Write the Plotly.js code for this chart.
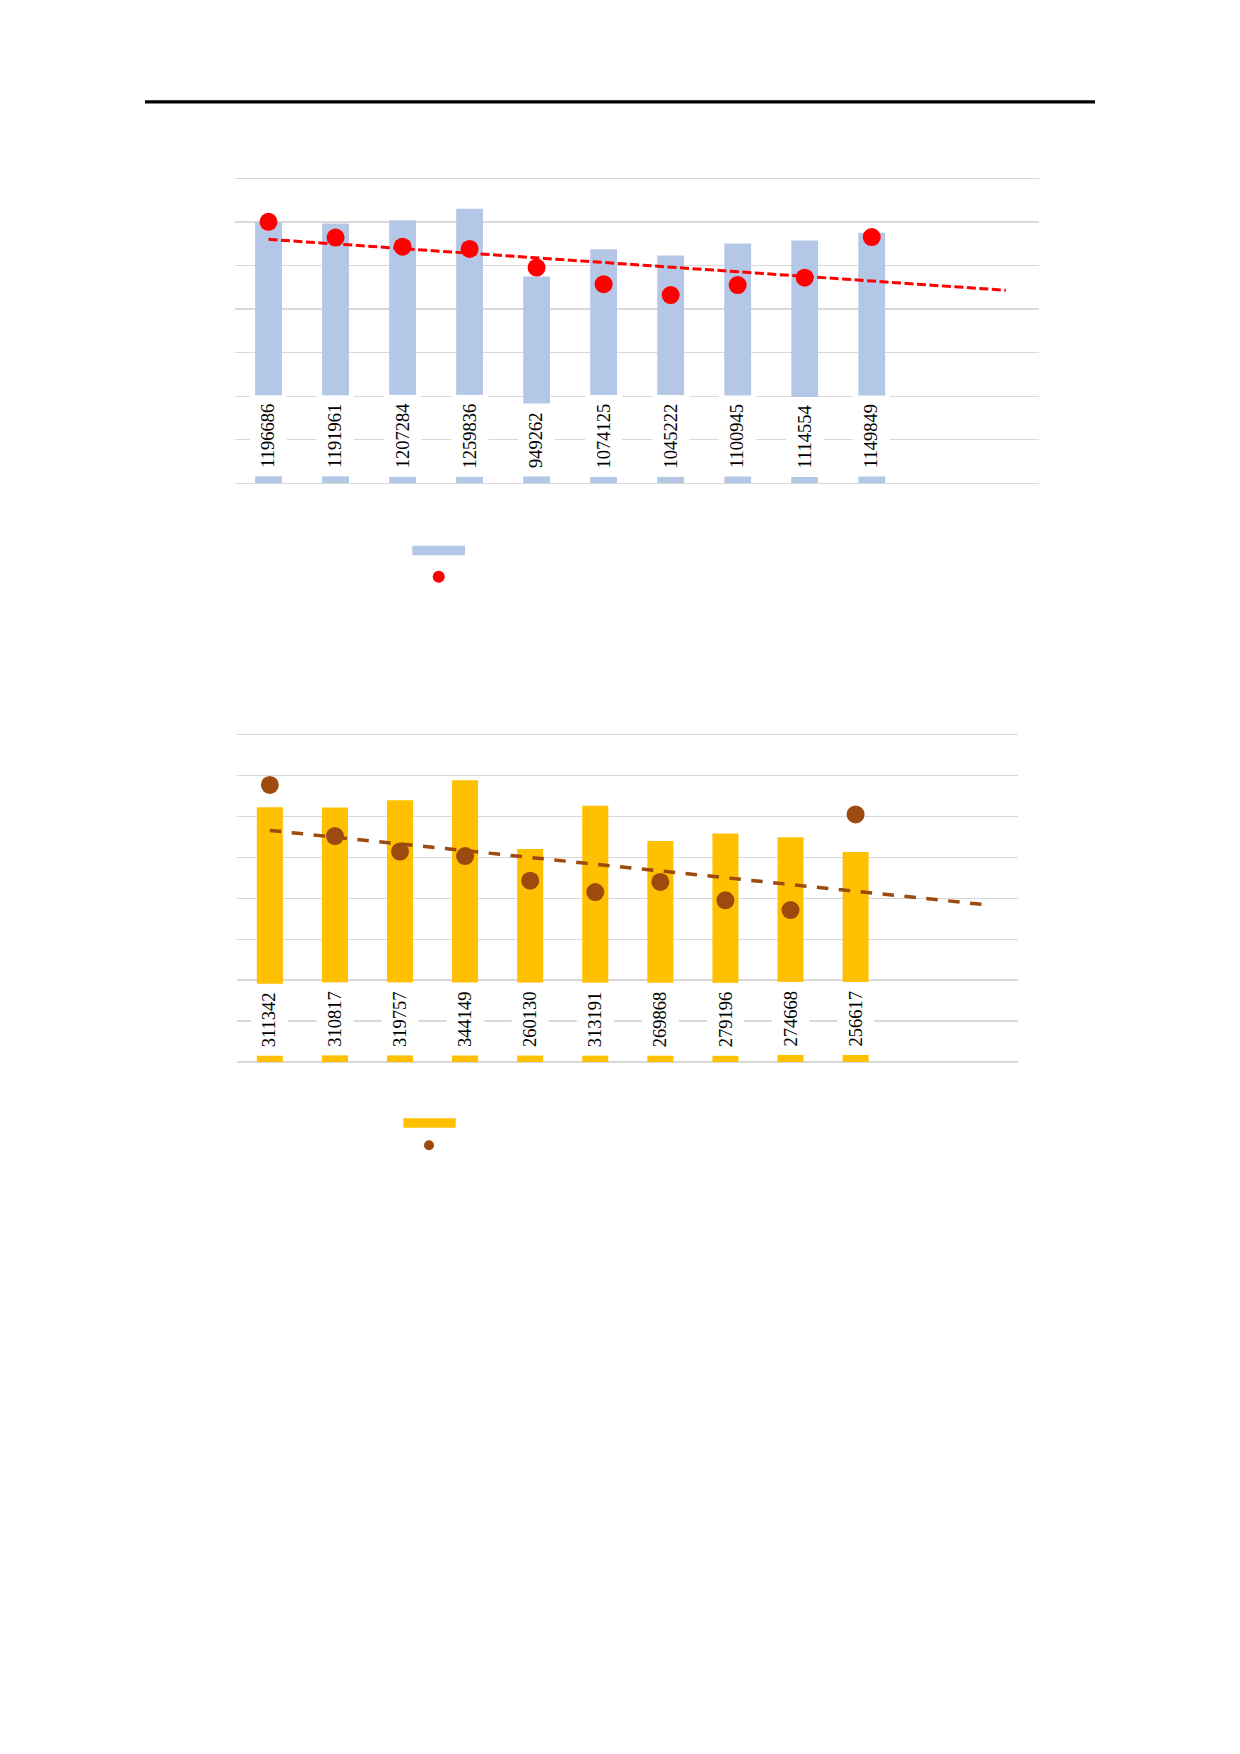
<!DOCTYPE html>
<html>
<head>
<meta charset="utf-8">
<script src="https://cdn.plot.ly/plotly-3.0.1.min.js"></script>
<style>
  html, body { margin: 0; padding: 0; background: #fff; }
  #page { width: 1240px; height: 1754px; }
</style>
</head>
<body>
<div id="page"></div>
<script>
// periods 1..10; the axis leaves room for two more so the trend can run ahead
const periods = [1, 2, 3, 4, 5, 6, 7, 8, 9, 10];
const trendEnd = 12;

// upper chart: blue columns + red points (secondary scale)
const blueValues = [1196686, 1191961, 1207284, 1259836, 949262, 1074125, 1045222, 1100945, 1114554, 1149849];
const redPoints = [6.00, 5.64, 5.43, 5.38, 4.95, 4.57, 4.32, 4.55, 4.72, 5.65];

// lower chart: yellow columns + brown points (secondary scale)
const yellowValues = [311342, 310817, 319757, 344149, 260130, 313191, 269868, 279196, 274668, 256617];
const brownPoints = [6.77, 5.52, 5.14, 5.03, 4.43, 4.15, 4.40, 3.95, 3.71, 6.05];

const W = 1240, H = 1754;
const px = x => x / W;
const py = y => 1 - y / H;

const BLUE = '#B4C7E7';
const RED = '#FF0000';
const YELLOW = '#FFC000';
const BROWN = '#9C4A0E';
const GRID = '#D9D9D9';

// least-squares line through the points, like a spreadsheet linear trendline
function trendline(xs, ys, xEnd) {
  const n = xs.length;
  const mx = xs.reduce((a, b) => a + b, 0) / n;
  const my = ys.reduce((a, b) => a + b, 0) / n;
  let sxy = 0, sxx = 0;
  for (let i = 0; i < n; i++) {
    sxy += (xs[i] - mx) * (ys[i] - my);
    sxx += (xs[i] - mx) ** 2;
  }
  const slope = sxy / sxx;
  const icpt = my - slope * mx;
  return { x: [xs[0], xEnd], y: [icpt + slope * xs[0], icpt + slope * xEnd] };
}

function valueLabels(values, xref, yref) {
  return values.map((v, i) => ({
    xref, yref,
    x: periods[i], y: 0,
    yanchor: 'bottom', yshift: 6,
    text: String(v),
    textangle: -90,
    showarrow: false,
    bgcolor: '#ffffff',
    borderpad: 8,
    font: { family: 'Liberation Serif, Times New Roman, serif', size: 18.5, color: '#000' },
  }));
}

// Plotly drops a gridline sitting right on the plot edge, so each value axis
// gets a few pixels of headroom above its top gridline
const HEAD = 3;
function axisBox(bottomPx, topPx, top) {
  const k = (bottomPx - topPx + HEAD) / (bottomPx - topPx);
  return { domain: [py(bottomPx), py(topPx - HEAD)], k, top: top * k };
}
const box1 = axisBox(483.3, 178.3, 1400000);
const box2 = axisBox(1061.9, 734.6, 400000);

const t1 = trendline(periods, redPoints, trendEnd);
const t2 = trendline(periods, brownPoints, trendEnd);

const traces = [
  { type: 'bar', x: periods, y: blueValues, width: 0.4, marker: { color: BLUE },
    xaxis: 'x', yaxis: 'y', hoverinfo: 'skip' },
  { type: 'scatter', mode: 'lines', x: t1.x, y: t1.y,
    line: { color: RED, width: 3, dash: '9px,3.5px' }, xaxis: 'x', yaxis: 'y3', hoverinfo: 'skip' },
  { type: 'scatter', mode: 'markers', x: periods, y: redPoints,
    marker: { color: RED, size: 18 }, xaxis: 'x', yaxis: 'y3', hoverinfo: 'skip' },

  { type: 'bar', x: periods, y: yellowValues, width: 0.4, marker: { color: YELLOW },
    xaxis: 'x2', yaxis: 'y2', hoverinfo: 'skip' },
  { type: 'scatter', mode: 'lines', x: t2.x, y: t2.y,
    line: { color: BROWN, width: 3.5, dash: '11.5px,10.5px' }, xaxis: 'x2', yaxis: 'y4', hoverinfo: 'skip' },
  { type: 'scatter', mode: 'markers', x: periods, y: brownPoints,
    marker: { color: BROWN, size: 18 }, xaxis: 'x2', yaxis: 'y4', hoverinfo: 'skip' },
];

const xBase = { range: [0.5, 12.5], showgrid: false, zeroline: false, showline: false,
  showticklabels: false, ticks: '', fixedrange: true };
const yBase = { showgrid: true, gridcolor: GRID, gridwidth: 1.3, zeroline: true,
  zerolinecolor: GRID, zerolinewidth: 1.3, showline: false, showticklabels: false,
  ticks: '', fixedrange: true };

const layout = {
  width: W, height: H,
  margin: { t: 0, r: 0, b: 0, l: 0 },
  paper_bgcolor: '#fff',
  plot_bgcolor: 'rgba(0,0,0,0)',
  showlegend: false,
  barmode: 'overlay',
  xaxis: { ...xBase, domain: [px(235), px(1039.3)], anchor: 'y' },
  yaxis: { ...yBase, domain: box1.domain, range: [0, box1.top], dtick: 200000, anchor: 'x' },
  yaxis3: { range: [0, 7 * box1.k], overlaying: 'y', anchor: 'x', visible: false, fixedrange: true },
  xaxis2: { ...xBase, domain: [px(237.3), px(1018.3)], anchor: 'y2' },
  yaxis2: { ...yBase, domain: box2.domain, range: [0, box2.top], dtick: 50000, anchor: 'x2' },
  yaxis4: { range: [0, 8 * box2.k], overlaying: 'y2', anchor: 'x2', visible: false, fixedrange: true },
  annotations: [
    ...valueLabels(blueValues, 'x', 'y'),
    ...valueLabels(yellowValues, 'x2', 'y2'),
  ],
  shapes: [
    // page rule at the top
    { type: 'line', xref: 'paper', yref: 'paper', x0: px(145), x1: px(1095), y0: py(101.8), y1: py(101.8),
      line: { color: '#000', width: 3.2 } },
    // legend keys (texts are absent in the source)
    { type: 'rect', xref: 'paper', yref: 'paper', x0: px(412.3), x1: px(465), y0: py(555.3), y1: py(545.7),
      fillcolor: BLUE, line: { width: 0 } },
    { type: 'circle', xref: 'paper', yref: 'paper', x0: px(432.7), x1: px(444.7), y0: py(582.7), y1: py(570.7),
      fillcolor: RED, line: { width: 0 } },
    { type: 'rect', xref: 'paper', yref: 'paper', x0: px(403.3), x1: px(455.7), y0: py(1127.7), y1: py(1118.3),
      fillcolor: YELLOW, line: { width: 0 } },
    { type: 'circle', xref: 'paper', yref: 'paper', x0: px(424), x1: px(434), y0: py(1150.3), y1: py(1140.3),
      fillcolor: BROWN, line: { width: 0 } },
  ],
};

Plotly.newPlot('page', traces, layout, { displayModeBar: false, staticPlot: true });
</script>
</body>
</html>
